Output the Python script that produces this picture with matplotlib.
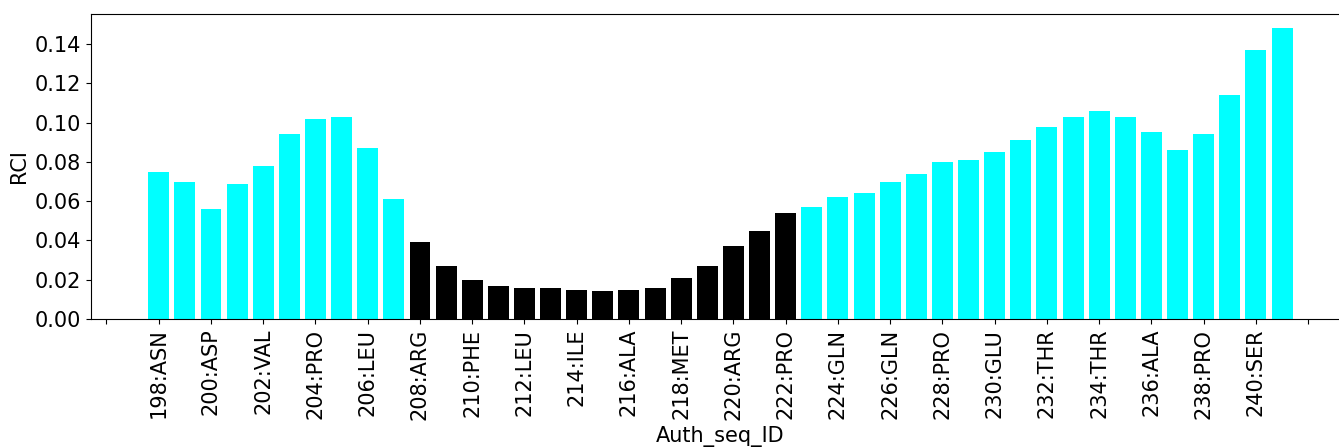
import matplotlib.pyplot as plt
import numpy as np

# residue numbers and RCI values
seq_ids = list(range(198, 242))
rci = [0.075, 0.070, 0.056, 0.069, 0.078, 0.094, 0.102, 0.103, 0.087, 0.061,
       0.039, 0.027, 0.020, 0.017, 0.016, 0.016, 0.015, 0.014, 0.015, 0.016,
       0.021, 0.027, 0.037, 0.045, 0.054,
       0.057, 0.062, 0.064, 0.070, 0.074, 0.080, 0.081, 0.085, 0.091, 0.098,
       0.103, 0.106, 0.103, 0.095, 0.086, 0.094, 0.114, 0.137, 0.148]
# residue names for the labelled (even) positions
tick_ids = list(range(196, 244, 2))
tick_names = ["", "ASN", "ASP", "VAL", "PRO", "LEU", "ARG", "PHE", "LEU", "ILE",
              "ALA", "MET", "ARG", "PRO", "GLN", "GLN", "PRO", "GLU", "THR",
              "THR", "ALA", "PRO", "SER", ""]
y_ticks = [0.00, 0.02, 0.04, 0.06, 0.08, 0.10, 0.12, 0.14]
core_start, core_end = 208, 222

colors = ["black" if core_start <= s <= core_end else "cyan" for s in seq_ids]
tick_labels = ["{}:{}".format(i, n) if n else "" for i, n in zip(tick_ids, tick_names)]

fig = plt.figure(figsize=(13.39, 4.48), dpi=100)
# right edge runs slightly past the figure, as in the original crop
ax = fig.add_axes([0.068, 0.288, 0.940, 0.681])
ax.bar(seq_ids, rci, color=colors, width=0.8)
ax.set_xticks(tick_ids)
ax.set_xticklabels(tick_labels, rotation=90, fontsize=15)
ax.set_yticks(y_ticks)
ax.set_yticklabels(["{:.2f}".format(v) for v in y_ticks], fontsize=15)
ax.set_xlabel("Auth_seq_ID", fontsize=15)
ax.set_ylabel("RCI", fontsize=15)
fig.savefig("out.png", dpi=100)
